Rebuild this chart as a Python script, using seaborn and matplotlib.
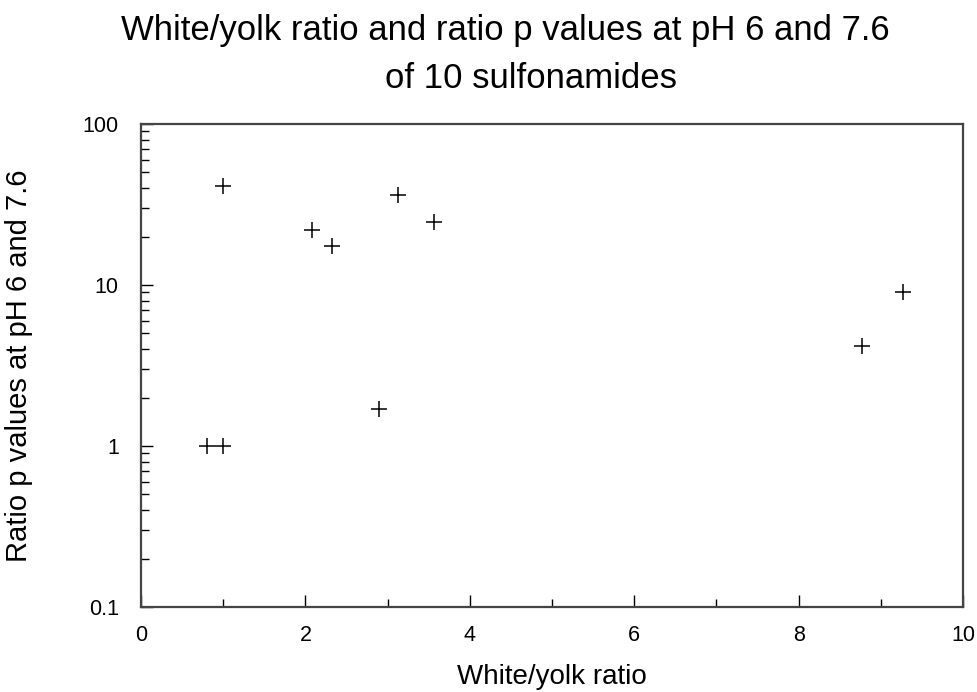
import matplotlib
matplotlib.use("Agg")
import matplotlib.pyplot as plt
import seaborn as sns
import pandas as pd
import numpy as np
from matplotlib.ticker import LogLocator, FixedLocator, NullFormatter

white_yolk_ratio = [1.00, 0.80, 1.00, 2.08, 2.32, 2.89, 3.13, 3.56, 8.77, 9.27]
ratio_p_values = [41.0, 1.0, 1.0, 21.9, 17.4, 1.70, 36.3, 24.6, 4.20, 9.0]

x_ticks = [0, 2, 4, 6, 8, 10]
y_ticks = [0.1, 1, 10, 100]
y_tick_labels = ["0.1", "1", "10", "100"]

title_line1 = "White/yolk ratio and ratio p values at pH 6 and 7.6"
title_line2 = "of 10 sulfonamides"
x_label = "White/yolk ratio"
y_label = "Ratio p values at pH 6 and 7.6"

sns.set_style("white")
plt.rcParams["font.family"] = ["Liberation Sans", "DejaVu Sans"]

df = pd.DataFrame({"x": white_yolk_ratio, "y": ratio_p_values})

fig = plt.figure(figsize=(9.78, 6.92), dpi=100)
ax = fig.add_axes([141 / 978, 1 - 607 / 692, (963 - 141) / 978, (607 - 124) / 692])

sns.scatterplot(data=df, x="x", y="y", marker="+", s=130, color="black",
                linewidth=1.1, ax=ax, legend=False)

ax.set_yscale("log")
ax.set_xlim(0, 10)
ax.set_ylim(0.1, 100)

ax.xaxis.set_major_locator(FixedLocator(x_ticks))
ax.xaxis.set_minor_locator(FixedLocator([1, 3, 5, 7, 9]))
ax.set_xticklabels([str(t) for t in x_ticks])
ax.yaxis.set_major_locator(FixedLocator(y_ticks))
ax.set_yticklabels(y_tick_labels)
ax.yaxis.set_minor_locator(LogLocator(base=10, subs=np.arange(2, 10)))
ax.yaxis.set_minor_formatter(NullFormatter())

ax.tick_params(axis="both", which="major", direction="in", length=8.5, width=1,
               color="black", labelsize=15.5, labelcolor="black")
ax.tick_params(axis="x", which="major", pad=13)
ax.tick_params(axis="y", which="major", pad=16)
ax.tick_params(axis="both", which="minor", direction="in", length=5.8, width=1,
               color="black")
ax.tick_params(top=False, right=False, which="both")
ax.tick_params(bottom=True, left=True, which="both")

for s in ax.spines.values():
    s.set_visible(True)
    s.set_color("#444444")
    s.set_linewidth(1.6)

ax.set_xlabel(x_label, fontsize=20, labelpad=13, color="black")
ax.set_ylabel(y_label, fontsize=21, labelpad=36, color="black")

fig.text(505 / 978, 1 - 40 / 692, title_line1, ha="center", va="baseline",
         fontsize=25, color="black")
fig.text(531 / 978, 1 - 88 / 692, title_line2, ha="center", va="baseline",
         fontsize=25, color="black")

fig.savefig("out.png", dpi=100)
